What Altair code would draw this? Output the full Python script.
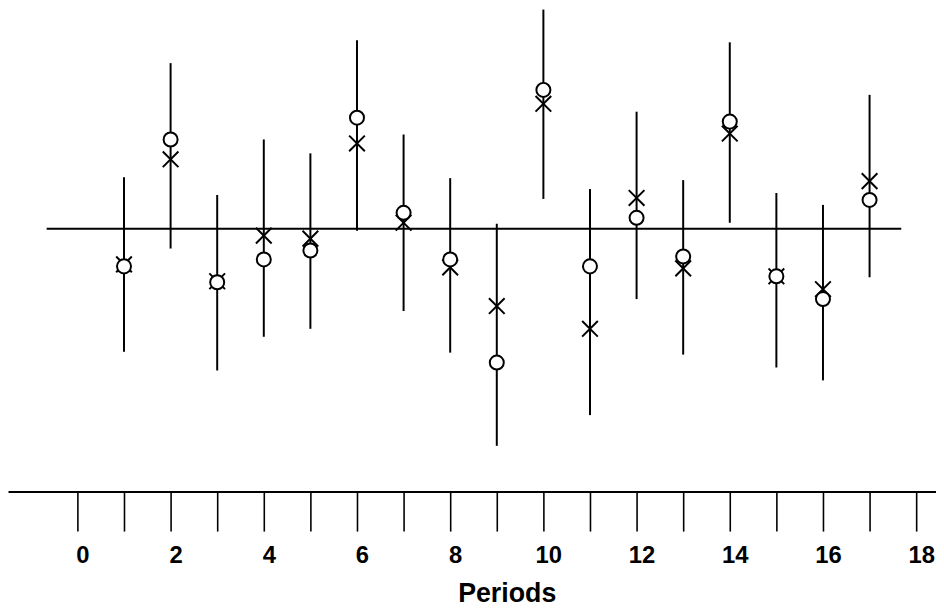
import altair as alt
import pandas as pd

# ---- data ----
periods = list(range(1, 18))
bar_top = [1.04, 3.34, 0.68, 1.80, 1.52, 3.80, 1.90, 1.02, 0.10, 4.42, 0.80, 2.36, 0.98, 3.76, 0.72, 0.48, 2.70]
bar_bottom = [-2.48, -0.40, -2.86, -2.18, -2.02, -0.04, -1.66, -2.50, -4.38, 0.60, -3.76, -1.42, -2.54, 0.12, -2.80, -3.06, -0.98]
circle_vals = [-0.76, 1.80, -1.08, -0.62, -0.44, 2.24, 0.32, -0.62, -2.70, 2.80, -0.76, 0.22, -0.56, 2.16, -0.96, -1.42, 0.58]
cross_vals = [-0.72, 1.40, -1.06, -0.14, -0.20, 1.72, 0.12, -0.78, -1.56, 2.52, -2.02, 0.62, -0.80, 1.92, -0.96, -1.22, 0.96]
ref_x = [-0.66]
ref_x2 = [17.68]
ref_y = [0.0]
tick_values = list(range(0, 19))

df = pd.DataFrame({
    "period": periods,
    "top": bar_top,
    "bottom": bar_bottom,
    "circle": circle_vals,
    "cross": cross_vals,
})
ref_df = pd.DataFrame({"x": ref_x, "x2": ref_x2, "y": ref_y})

FONT = "Liberation Sans, Arial, Helvetica, sans-serif"

xscale = alt.Scale(domain=[-70 / 47, 866 / 47], nice=False, zero=False)
yscale = alt.Scale(domain=[-5.3, 4.4], nice=False, zero=False)

xaxis = alt.Axis(
    values=tick_values,
    labelExpr="datum.value % 2 == 0 ? datum.label : ''",
    tickSize=40, tickWidth=1.6, tickColor="black",
    domainWidth=2, domainColor="black",
    grid=False,
    labelFont=FONT, labelFontSize=24, labelFontWeight="bold", labelColor="black",
    labelPadding=13, labelOffset=5, labelFlush=False, labelOverlap=False,
    title="Periods", titleFont=FONT, titleFontSize=27, titleFontWeight="bold",
    titleColor="black", titleX=503, titleY=111, titleBaseline="alphabetic",
    titleAlign="center",
)

base = alt.Chart(df)

bars = base.mark_rule(color="black", strokeWidth=2).encode(
    x=alt.X("period:Q", scale=xscale, axis=xaxis),
    y=alt.Y("top:Q", scale=yscale, axis=None),
    y2="bottom:Q",
)

refline = alt.Chart(ref_df).mark_rule(color="black", strokeWidth=2).encode(
    x=alt.X("x:Q", scale=xscale),
    x2="x2:Q",
    y=alt.Y("y:Q", scale=yscale),
)

crosses = base.mark_point(
    shape="M-1,-1L1,1M-1,1L1,-1", size=250, stroke="black", strokeWidth=2,
    filled=False, opacity=1,
).encode(
    x=alt.X("period:Q", scale=xscale),
    y=alt.Y("cross:Q", scale=yscale),
)

circles = base.mark_point(
    shape="circle", size=200, stroke="black", strokeWidth=2,
    fill="white", filled=True, fillOpacity=1, strokeOpacity=1, opacity=1,
).encode(
    x=alt.X("period:Q", scale=xscale),
    y=alt.Y("circle:Q", scale=yscale),
)

chart = alt.layer(bars, refline, crosses, circles).properties(
    width=936, height=485,
    autosize=alt.AutoSizeParams(type="none"),
    padding={"left": 0, "top": 0, "right": 0, "bottom": 118},
    background="white",
).configure_view(strokeWidth=0)

chart.save("out.html", embed_options={"renderer": "svg", "actions": False})
